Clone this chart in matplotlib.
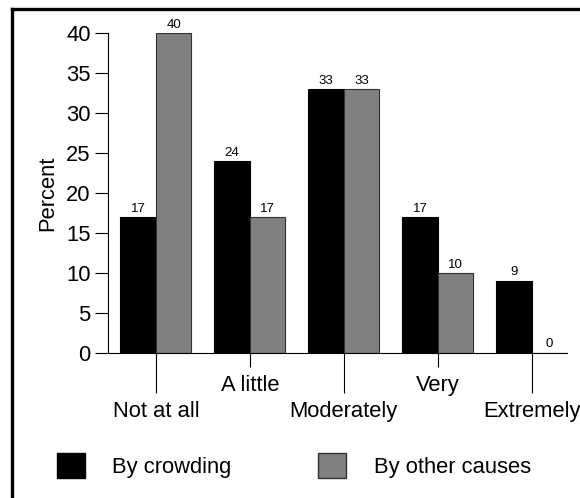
import numpy as np
import matplotlib.pyplot as plt
from matplotlib.lines import Line2D
from matplotlib.patches import Patch

plt.rcParams['font.family'] = ['Liberation Sans', 'DejaVu Sans']

categories = ['Not at all', 'A little', 'Moderately', 'Very', 'Extremely']
crowding = [17, 24, 33, 17, 9]
other_causes = [40, 17, 33, 10, 0]
series_names = ['By crowding', 'By other causes']

W, H = 580, 498
fig = plt.figure(figsize=(W / 100, H / 100), dpi=100)
ax = fig.add_axes([108 / W, 1 - 352.7 / H, (567 - 108) / W, (352.7 - 33.5) / H])

x = np.arange(len(categories))
bw = 0.378
b1 = ax.bar(x - bw / 2, crowding, bw, color='black', edgecolor='black', linewidth=0.8)
b2 = ax.bar(x + bw / 2, other_causes, bw, color='#808080', edgecolor='#333333', linewidth=0.8)

# value labels on top of the bars
for bars, vals in ((b1, crowding), (b2, other_causes)):
    for rect, v in zip(bars, vals):
        ax.text(rect.get_x() + rect.get_width() / 2, v + 0.3, str(v),
                ha='center', va='bottom', fontsize=9.5, clip_on=False)

ax.set_xlim(-0.51, 4.376)
ax.set_ylim(0, 40)
ax.set_yticks(range(0, 41, 5))
ax.tick_params(axis='y', direction='out', length=9.5, width=0.8, labelsize=15.8, pad=3)
ax.set_ylabel('Percent', fontsize=15.8, labelpad=6)

# staggered category labels: long ticks for even, short ticks for odd
ax.set_xticks(x[::2])
ax.set_xticklabels(categories[::2])
ax.set_xticks(x[1::2], minor=True)
ax.set_xticklabels(categories[1::2], minor=True)
ax.tick_params(axis='x', which='major', direction='out', length=29, width=0.8, labelsize=15.8, pad=6)
ax.tick_params(axis='x', which='minor', direction='out', length=10, width=0.8, labelsize=15.8, pad=6)

for s in ['top', 'right']:
    ax.spines[s].set_visible(False)
for s in ['left', 'bottom']:
    ax.spines[s].set_linewidth(0.8)

handles = [Patch(facecolor='black', edgecolor='black'),
           Patch(facecolor='#808080', edgecolor='#333333')]
fig.legend(handles, series_names, loc='upper left',
           bbox_to_anchor=(57 / W, 1 - 453 / H), ncol=2, frameon=False,
           fontsize=15.8, handlelength=1.27, handleheight=1.35,
           handletextpad=1.25, columnspacing=3.95, borderpad=0, borderaxespad=0)

# frame around the figure (only left and top edges visible)
fig.add_artist(Line2D([11.5 / W, 11.5 / W], [0, 1 - 9.5 / H], color='black', lw=2.4,
                      transform=fig.transFigure, solid_capstyle='projecting'))
fig.add_artist(Line2D([11.5 / W, 1], [1 - 9.5 / H, 1 - 9.5 / H], color='black', lw=2.4,
                      transform=fig.transFigure, solid_capstyle='projecting'))

fig.savefig('out.png', dpi=100)
